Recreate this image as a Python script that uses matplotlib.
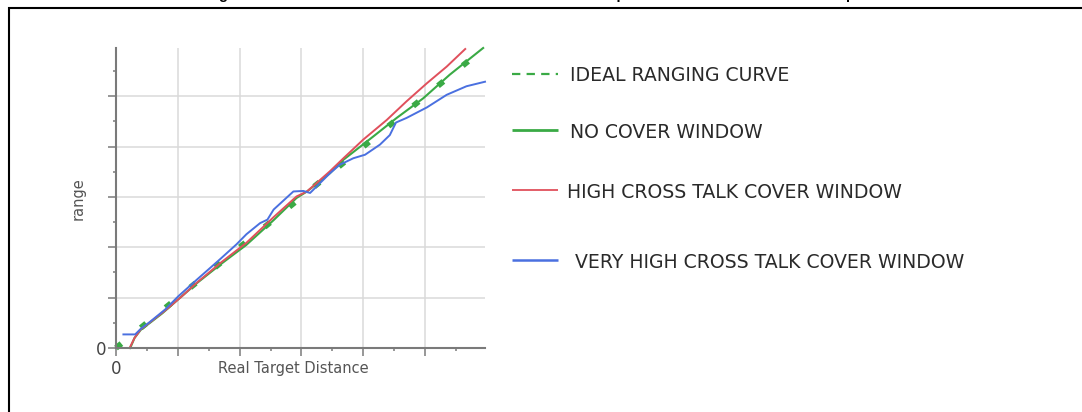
import matplotlib
matplotlib.use("Agg")
import matplotlib.pyplot as plt
from matplotlib.lines import Line2D

plt.rcParams['lines.scale_dashes'] = False

# ---------------- data ----------------
title_text = "Figure 12. Cross talk effect of the cover window on the output versus the real distance compared to ideal"
x_label = "Real Target Distance"
y_label = "range"
x_tick_labels = ["0", "", "", "", "", ""]
y_tick_labels = ["0", "", "", "", "", ""]

legend_labels = ["IDEAL RANGING CURVE", "NO COVER WINDOW",
                 "HIGH CROSS TALK COVER WINDOW", "VERY HIGH CROSS TALK COVER WINDOW"]

ideal_x = [0.0, 5.92]
ideal_y = [0.0, 5.92]

nocover_x = [0.23, 0.30, 0.40, 0.55, 0.75, 1.00, 1.31, 1.70, 2.11, 2.55, 2.92, 3.09,
             3.46, 3.68, 4.16, 4.54, 4.97, 5.40, 5.94]
nocover_y = [0.00, 0.20, 0.36, 0.50, 0.69, 0.96, 1.29, 1.67, 2.05, 2.54, 2.98, 3.11,
             3.47, 3.74, 4.20, 4.57, 4.96, 5.43, 5.96]

high_x = [0.22, 0.30, 0.40, 0.55, 0.80, 1.05, 1.31, 1.70, 2.11, 2.55, 2.92, 3.09,
          3.46, 3.68, 4.00, 4.38, 4.70, 5.03, 5.35, 5.65]
high_y = [0.00, 0.20, 0.37, 0.51, 0.75, 1.01, 1.30, 1.70, 2.09, 2.60, 3.01, 3.11,
          3.51, 3.77, 4.14, 4.53, 4.90, 5.26, 5.59, 5.94]

vhigh_x = [0.12, 0.31, 0.40, 0.55, 0.80, 1.01, 1.31, 1.68, 1.95, 2.11, 2.33, 2.45,
           2.55, 2.87, 3.03, 3.14, 3.46, 3.62, 3.84, 4.03, 4.27, 4.43, 4.53, 4.70,
           5.03, 5.35, 5.67, 5.97]
vhigh_y = [0.27, 0.27, 0.38, 0.52, 0.77, 1.03, 1.36, 1.76, 2.06, 2.26, 2.48, 2.55,
           2.75, 3.11, 3.12, 3.08, 3.47, 3.64, 3.77, 3.84, 4.04, 4.23, 4.48, 4.57,
           4.78, 5.03, 5.20, 5.29]

# ---------------- style ----------------
GREEN = "#3aaa45"
RED = "#e0505c"
BLUE = "#4a70e0"
GRID = "#dadada"
AXC = "#7a7a7a"
TXT = "#555555"

W, H = 1082, 412
fig = plt.figure(figsize=(W / 100, H / 100), dpi=100)

def fx(px):
    return px / W

def fy(py):
    return 1 - py / H

# frame lines (top and left)
fig.add_artist(Line2D([fx(8), fx(1082)], [fy(7.7), fy(7.7)], color="black", lw=1.5,
                      transform=fig.transFigure, solid_capstyle="butt"))
fig.add_artist(Line2D([fx(9), fx(9)], [fy(7), fy(412)], color="black", lw=1.5,
                      transform=fig.transFigure, solid_capstyle="butt"))

# title sitting above the visible area (only descenders visible, as in the reference)
fig.text(fx(206), fy(-0.6), title_text, ha="left", va="baseline",
         fontsize=10.6, fontweight="bold", family="Liberation Sans", color="black")

# axes
ax_l, ax_r, ax_t, ax_b = 116, 485, 48, 348
ax = fig.add_axes([fx(ax_l), fy(ax_b), (ax_r - ax_l) / W, (ax_b - ax_t) / H])
ax.set_xlim(0, 5.97)
ax.set_ylim(0, 5.96)

for s in ["top", "right"]:
    ax.spines[s].set_visible(False)
for s in ["left", "bottom"]:
    ax.spines[s].set_color(AXC)
    ax.spines[s].set_linewidth(1.5)

ax.set_xticks(range(6))
ax.set_yticks(range(6))
ax.set_xticks([0.5 + i for i in range(6)], minor=True)
ax.set_yticks([0.5 + i for i in range(6)], minor=True)
ax.set_xticklabels(x_tick_labels)
ax.set_yticklabels(y_tick_labels)
ax.tick_params(which="major", direction="out", length=6, width=1.1, color=AXC,
               labelsize=12, labelcolor="#444444", pad=1)
ax.tick_params(axis="x", which="major", pad=3)
ax.tick_params(which="minor", direction="out", length=2.5, width=1.1, color=AXC)

ax.grid(True, which="major", color=GRID, lw=1.1)
ax.set_axisbelow(True)

ax.set_xlabel(x_label, fontsize=10.5, color=TXT)
ax.xaxis.label.set_va("center")
ax.xaxis.set_label_coords((293 - ax_l) / (ax_r - ax_l), -(369 - ax_b) / (ax_b - ax_t))
ax.set_ylabel(y_label, fontsize=10.5, color=TXT)
ax.yaxis.label.set_va("center")
ax.yaxis.set_label_coords((78 - ax_l) / (ax_r - ax_l), (ax_b - 199) / (ax_b - ax_t))

# curves
ax.plot(ideal_x, ideal_y, color=GREEN, lw=4.2, dashes=(5.0, 18.0), solid_capstyle="butt",
        dash_capstyle="butt", clip_on=False)
ax.plot(nocover_x, nocover_y, color=GREEN, lw=1.5, clip_on=False)
ax.plot(high_x, high_y, color=RED, lw=1.4, clip_on=False)
ax.plot(vhigh_x, vhigh_y, color=BLUE, lw=1.4, clip_on=False)

# custom legend
leg = [
    (73.5, 570, GREEN, dict(lw=1.6, dashes=(6.0, 4.5))),
    (130, 570, GREEN, dict(lw=2.0)),
    (190, 567, RED, dict(lw=1.3)),
    (260, 575, BLUE, dict(lw=1.8)),
]
for (py, tx, col, kw), lab in zip(leg, legend_labels):
    fig.add_artist(Line2D([fx(512), fx(558)], [fy(py), fy(py)], color=col,
                          transform=fig.transFigure, solid_capstyle="butt",
                          dash_capstyle="butt", **kw))
    fig.text(fx(tx), fy(py), lab, ha="left", va="center_baseline", fontsize=13.6,
             family="DejaVu Sans", color="#2a2a2a")

fig.savefig("out.png", dpi=100, facecolor="white")
